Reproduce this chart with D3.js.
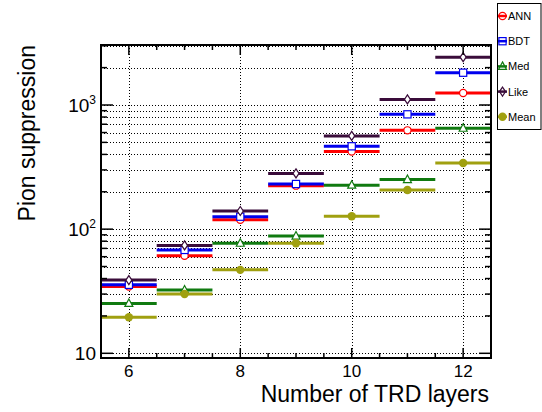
<!DOCTYPE html>
<html>
<head>
<meta charset="utf-8">
<script src="https://cdn.jsdelivr.net/npm/d3@7"></script>
<style>
  body { margin: 0; background: #fff; }
  svg { display: block; font-family: Arial, "Liberation Sans", sans-serif; }
</style>
</head>
<body>
<svg></svg>
<script>
// данные
const layers = [6, 7, 8, 9, 10, 11, 12];
const annVals = [34.5, 61, 119, 224, 422, 625, 1250];
const bdtVals = [35.6, 68, 126, 231, 465, 841, 1820];
const medVals = [25.2, 32.3, 77, 88, 226, 251, 650];
const likeVals = [38.9, 74, 140, 281, 564, 1110, 2430];
const meanVals = [19.5, 30, 47, 77, 127, 207, 341];

const seriesNames = ["ANN", "BDT", "Med", "Like", "Mean"];
const seriesColors = ["#ff0000", "#0000ee", "#107a10", "#3a0c3a", "#a0a010"];
const seriesMarkers = ["circle", "square", "triangle", "diamond", "dot"];
const seriesVals = [annVals, bdtVals, medVals, likeVals, meanVals];

const xTicks = [6, 8, 10, 12];
const yLabels = [[10, ""], [100, "2"], [1000, "3"]];

const width = 542, height = 412;
const padLeft = 101, padRight = 491, padTop = 45, padBottom = 358;

const svg = d3.select("svg").attr("width", width).attr("height", height);

const scX = d3.scaleLinear().domain([5.5, 12.5]).range([padLeft, padRight]);
const scY = d3.scaleLog().domain([9.166, 3043]).range([padBottom, padTop]);

// сетка
const yMinor = [];
for (let dec = 10; dec <= 1000; dec *= 10) {
  for (let k = 1; k <= 9; k++) {
    const v = dec * k;
    if (v >= 9.166 && v <= 3043) yMinor.push(v);
  }
}
const grid = svg.append("g")
  .attr("stroke", "#000").attr("stroke-width", 1)
  .attr("stroke-dasharray", "1,2").attr("fill", "none");
grid.selectAll(".gy").data(yMinor).enter().append("line")
  .attr("x1", padLeft).attr("x2", padRight)
  .attr("y1", d => Math.round(scY(d)) + 0.5).attr("y2", d => Math.round(scY(d)) + 0.5);
grid.selectAll(".gx").data(xTicks).enter().append("line")
  .attr("y1", padTop).attr("y2", padBottom)
  .attr("x1", d => Math.round(scX(d)) + 0.5).attr("x2", d => Math.round(scX(d)) + 0.5);

// маркеры
function drawMarker(g, type, x, y, color, fill) {
  if (type === "circle") {
    g.append("circle").attr("cx", x).attr("cy", y).attr("r", 3.6)
      .attr("fill", fill).attr("stroke", color).attr("stroke-width", 1.2);
  } else if (type === "square") {
    g.append("rect").attr("x", x - 3.6).attr("y", y - 3.6).attr("width", 7.2).attr("height", 7.2)
      .attr("fill", fill).attr("stroke", color).attr("stroke-width", 1.2);
  } else if (type === "triangle") {
    g.append("path").attr("d", `M${x},${y - 4.5}L${x + 4},${y + 3}L${x - 4},${y + 3}Z`)
      .attr("fill", fill).attr("stroke", color).attr("stroke-width", 1.2);
  } else if (type === "diamond") {
    g.append("path").attr("d", `M${x},${y - 4.5}L${x + 3},${y}L${x},${y + 4.5}L${x - 3},${y}Z`)
      .attr("fill", fill).attr("stroke", color).attr("stroke-width", 1.2);
  } else {
    g.append("circle").attr("cx", x).attr("cy", y).attr("r", 4.2).attr("fill", color);
  }
}

// гистограммы
seriesVals.forEach((vals, i) => {
  const g = svg.append("g");
  g.selectAll("line").data(layers).enter().append("line")
    .attr("x1", d => scX(d - 0.5)).attr("x2", d => scX(d + 0.5))
    .attr("y1", (d, j) => scY(vals[j])).attr("y2", (d, j) => scY(vals[j]))
    .attr("stroke", seriesColors[i]).attr("stroke-width", 3);
  layers.forEach((d, j) => drawMarker(g, seriesMarkers[i], scX(d), scY(vals[j]), seriesColors[i], "#fff"));
});

// рамка и деления
svg.append("rect").attr("x", padLeft).attr("y", padTop)
  .attr("width", padRight - padLeft).attr("height", padBottom - padTop)
  .attr("fill", "none").attr("stroke", "#000").attr("stroke-width", 2);

const ticks = svg.append("g").attr("stroke", "#000").attr("stroke-width", 1.5);
const xMinor = d3.range(6, 12.5, 0.5);
xMinor.forEach(v => {
  const len = Number.isInteger(v) && v % 2 === 0 ? 10 : 5;
  const x = scX(v);
  ticks.append("line").attr("x1", x).attr("x2", x).attr("y1", padBottom).attr("y2", padBottom - len);
  ticks.append("line").attr("x1", x).attr("x2", x).attr("y1", padTop).attr("y2", padTop + len);
});
yMinor.forEach(v => {
  const major = [10, 100, 1000].includes(v);
  const len = major ? 12 : 6;
  const y = scY(v);
  ticks.append("line").attr("x1", padLeft).attr("x2", padLeft + len).attr("y1", y).attr("y2", y);
  ticks.append("line").attr("x1", padRight).attr("x2", padRight - len).attr("y1", y).attr("y2", y);
});

// подписи осей
svg.selectAll(".xl").data(xTicks).enter().append("text")
  .attr("x", d => scX(d)).attr("y", 377)
  .attr("text-anchor", "middle").attr("font-size", 17).text(d => d);

yLabels.forEach(([v, exp]) => {
  const t = svg.append("text").attr("x", 96).attr("y", scY(v) + 7)
    .attr("text-anchor", "end").attr("font-size", 19);
  t.append("tspan").text("10");
  if (exp) t.append("tspan").attr("dy", -8).attr("font-size", 12).text(exp);
});

svg.append("text").attr("x", 489).attr("y", 402)
  .attr("text-anchor", "end").attr("font-size", 23).text("Number of TRD layers");

svg.append("text").attr("transform", "translate(35,45) rotate(-90)")
  .attr("text-anchor", "end").attr("font-size", 23).text("Pion suppression");

// легенда
const leg = svg.append("g");
leg.append("rect").attr("x", 497.5).attr("y", 3.5).attr("width", 43.5).attr("height", 126)
  .attr("fill", "#fff").attr("stroke", "#000").attr("stroke-width", 1);
seriesNames.forEach((name, i) => {
  const y = 16 + i * 25.2;
  leg.append("line").attr("x1", 498).attr("x2", 507).attr("y1", y).attr("y2", y)
    .attr("stroke", seriesColors[i]).attr("stroke-width", 2.5);
  drawMarker(leg, seriesMarkers[i], 502.5, y, seriesColors[i], "none");
  leg.append("text").attr("x", 508).attr("y", y + 4).attr("font-size", 11).text(name);
});
</script>
</body>
</html>
